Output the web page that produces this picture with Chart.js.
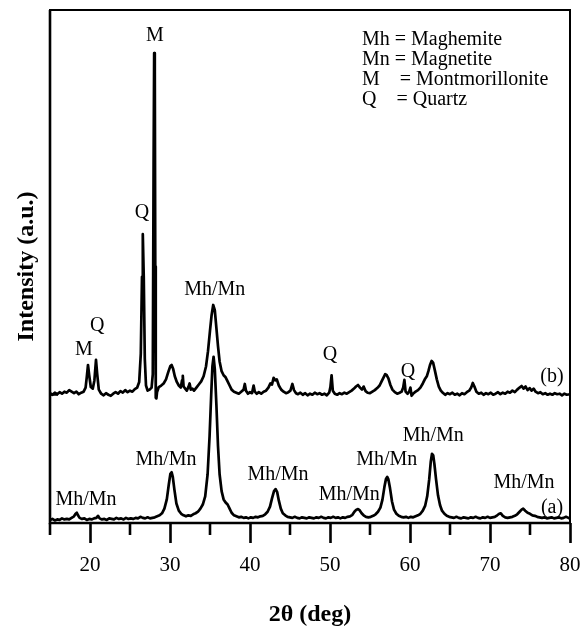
<!DOCTYPE html>
<html>
<head>
<meta charset="utf-8">
<script src="https://cdn.jsdelivr.net/npm/chart.js@4/dist/chart.umd.min.js"></script>
<style>
  html, body { margin: 0; padding: 0; background: #fff; }
  canvas { display: block; }
</style>
</head>
<body>
<canvas id="xrd" width="584" height="630"></canvas>
<script>
// XRD patterns, [2theta, intensity] pairs; (b) sits on an offset of 25
var patternA = [
  [15.0,0.6],[15.3,0.8],[15.6,0.5],[15.9,0.7],[16.2,0.6],[16.5,0.9],[16.8,0.7],[17.1,0.8],[17.4,0.7],[17.7,1.0],
  [18.0,1.3],[18.2,1.8],[18.35,2.0],[18.5,1.5],[18.7,1.0],[19.0,0.8],[19.3,0.9],[19.6,0.6],[19.9,0.8],[20.2,0.7],
  [20.5,0.9],[20.8,1.0],[21.0,1.4],[21.2,0.9],[21.5,0.7],[21.8,0.8],[22.1,0.6],[22.4,0.9],[22.7,0.8],[23.0,0.7],
  [23.3,1.0],[23.6,0.8],[23.9,0.9],[24.2,0.7],[24.5,1.0],[24.8,0.8],[25.1,0.9],[25.4,0.8],[25.7,1.0],[26.0,0.9],
  [26.3,1.2],[26.6,1.0],[26.9,0.9],[27.2,1.1],[27.5,0.9],[27.8,1.0],[28.1,1.1],[28.4,1.3],[28.7,1.5],[29.0,1.9],
  [29.3,2.8],[29.6,4.6],[29.85,7.5],[30.05,9.6],[30.2,9.9],[30.35,9.0],[30.55,6.5],[30.8,3.8],[31.1,2.4],[31.4,1.8],
  [31.7,1.5],[32.0,1.3],[32.3,1.5],[32.6,1.4],[32.9,1.7],[33.2,1.9],[33.5,2.2],[33.8,2.8],[34.1,3.6],[34.4,5.2],
  [34.7,9.5],[34.95,17.0],[35.15,25.0],[35.3,30.5],[35.45,32.4],[35.6,30.0],[35.8,23.0],[36.0,15.0],[36.2,9.5],[36.45,6.2],
  [36.7,4.6],[36.95,4.0],[37.2,3.6],[37.45,2.8],[37.7,2.0],[38.0,1.5],[38.3,1.3],[38.6,1.1],[38.9,1.2],[39.2,1.0],
  [39.5,1.1],[39.8,0.9],[40.1,1.1],[40.4,1.0],[40.7,1.2],[41.0,1.1],[41.3,1.3],[41.6,1.4],[41.9,1.7],[42.2,2.2],
  [42.5,3.2],[42.75,4.8],[43.0,6.2],[43.2,6.6],[43.4,6.0],[43.6,4.4],[43.85,2.8],[44.1,1.9],[44.4,1.5],[44.7,1.2],
  [45.0,1.1],[45.3,1.0],[45.6,1.2],[45.9,1.0],[46.2,0.9],[46.5,1.1],[46.8,1.0],[47.1,0.9],[47.4,1.1],[47.7,1.0],
  [48.0,0.9],[48.3,1.1],[48.6,1.0],[48.9,1.2],[49.2,1.0],[49.5,0.9],[49.8,1.1],[50.1,1.0],[50.4,1.2],[50.7,1.0],
  [51.0,1.1],[51.3,0.9],[51.6,1.1],[51.9,1.0],[52.2,1.2],[52.5,1.3],[52.8,1.6],[53.05,2.2],[53.3,2.6],[53.5,2.7],
  [53.7,2.5],[53.95,1.9],[54.2,1.5],[54.5,1.2],[54.8,1.1],[55.1,1.2],[55.4,1.4],[55.7,1.7],[56.0,2.2],[56.3,3.0],
  [56.55,4.5],[56.8,7.0],[57.0,8.6],[57.15,9.0],[57.3,8.5],[57.5,6.8],[57.75,4.2],[58.0,2.6],[58.3,1.8],[58.6,1.4],
  [58.9,1.2],[59.2,1.1],[59.5,1.2],[59.8,1.0],[60.1,1.2],[60.4,1.1],[60.7,1.3],[61.0,1.5],[61.3,1.8],[61.6,2.4],
  [61.9,3.4],[62.15,5.2],[62.4,8.5],[62.6,12.0],[62.75,13.5],[62.9,13.2],[63.05,11.5],[63.25,8.6],[63.5,5.4],[63.75,3.5],
  [64.0,2.4],[64.3,1.8],[64.6,1.4],[64.9,1.2],[65.2,1.1],[65.5,1.0],[65.8,1.2],[66.1,1.0],[66.4,0.9],[66.7,1.1],
  [67.0,1.0],[67.3,0.9],[67.6,1.1],[67.9,1.0],[68.2,1.2],[68.5,1.0],[68.8,0.9],[69.1,1.1],[69.4,1.0],[69.7,1.2],
  [70.0,1.0],[70.3,1.1],[70.6,1.2],[70.9,1.5],[71.15,1.8],[71.35,1.9],[71.6,1.4],[71.9,1.1],[72.2,1.0],[72.5,1.1],
  [72.8,1.2],[73.1,1.4],[73.4,1.7],[73.7,2.2],[73.95,2.6],[74.15,2.8],[74.4,2.4],[74.7,2.0],[75.0,1.8],[75.3,1.5],
  [75.6,1.4],[75.9,1.2],[76.2,1.1],[76.5,1.0],[76.8,1.1],[77.1,0.9],[77.4,1.0],[77.7,1.1],[78.0,0.9],[78.3,1.0],
  [78.6,1.1],[78.9,0.9],[79.2,1.0],[79.5,1.2],[79.8,1.0],[80.0,0.9]
];

var patternB = [
  [15.0,25.3],[15.3,25.0],[15.6,25.4],[15.9,25.1],[16.2,25.5],[16.5,25.2],[16.8,25.6],[17.1,25.4],[17.4,25.9],[17.7,25.6],
  [18.0,25.3],[18.3,25.6],[18.6,25.1],[18.9,25.4],[19.2,25.6],[19.45,26.4],[19.6,28.5],[19.75,30.8],[19.9,28.8],[20.1,26.5],
  [20.35,26.2],[20.55,27.8],[20.75,31.8],[20.9,29.0],[21.1,26.0],[21.4,25.2],[21.7,24.9],[22.0,25.3],[22.3,25.0],[22.6,24.8],
  [22.9,25.2],[23.2,25.5],[23.5,25.2],[23.8,25.7],[24.1,25.4],[24.4,25.9],[24.7,25.5],[25.0,25.8],[25.3,25.6],[25.6,26.1],
  [25.9,26.4],[26.15,27.5],[26.35,33.0],[26.5,48.0],[26.6,56.3],[26.72,48.0],[26.85,32.0],[27.0,26.8],[27.2,25.8],[27.45,26.0],
  [27.7,26.4],[27.85,29.0],[27.95,70.0],[28.02,91.6],[28.1,88.0],[28.16,50.0],[28.22,24.4],[28.3,24.3],[28.38,25.5],[28.6,26.5],
  [28.9,26.8],[29.2,27.2],[29.5,28.0],[29.8,29.5],[30.05,30.6],[30.2,30.8],[30.4,30.0],[30.6,28.6],[30.85,27.5],[31.1,26.8],
  [31.35,26.4],[31.5,27.8],[31.6,28.7],[31.7,26.6],[31.9,26.2],[32.1,25.8],[32.3,26.5],[32.45,27.2],[32.6,26.0],[32.8,26.2],
  [33.0,25.8],[33.3,26.4],[33.6,27.0],[33.9,27.6],[34.2,28.6],[34.5,30.5],[34.75,33.5],[35.0,37.5],[35.2,40.5],[35.4,42.5],
  [35.6,41.5],[35.8,38.0],[36.0,34.5],[36.2,31.5],[36.45,29.6],[36.7,28.8],[36.95,28.4],[37.2,27.6],[37.45,26.8],[37.7,26.0],
  [38.0,25.6],[38.3,25.4],[38.6,25.2],[38.9,25.6],[39.2,26.0],[39.35,27.1],[39.5,25.8],[39.75,25.2],[40.0,25.5],[40.25,25.3],
  [40.45,26.8],[40.6,25.6],[40.85,25.2],[41.1,25.5],[41.4,25.2],[41.7,25.6],[42.0,25.8],[42.3,26.4],[42.55,27.2],[42.75,27.0],
  [42.95,28.3],[43.15,27.8],[43.35,28.0],[43.6,26.8],[43.9,26.0],[44.2,25.6],[44.5,25.3],[44.8,25.5],[45.05,25.8],[45.3,27.1],
  [45.5,25.9],[45.75,25.3],[46.0,25.1],[46.3,25.4],[46.6,25.0],[46.9,25.3],[47.2,24.9],[47.5,25.2],[47.8,25.0],[48.1,25.4],
  [48.4,25.1],[48.7,25.3],[49.0,25.0],[49.3,25.2],[49.6,24.9],[49.9,25.4],[50.05,26.5],[50.2,28.8],[50.35,25.8],[50.6,25.2],
  [50.9,25.0],[51.2,25.3],[51.5,25.1],[51.8,25.4],[52.1,25.2],[52.4,25.5],[52.7,25.8],[53.0,26.2],[53.25,26.6],[53.5,26.9],
  [53.75,26.4],[54.0,26.0],[54.2,26.6],[54.45,25.7],[54.7,25.4],[55.0,25.3],[55.3,25.6],[55.6,25.9],[55.9,26.3],[56.2,26.8],
  [56.45,27.6],[56.7,28.4],[56.9,29.0],[57.1,28.8],[57.3,28.2],[57.55,26.9],[57.8,26.0],[58.1,25.5],[58.4,25.2],[58.7,25.4],
  [58.95,25.6],[59.15,26.4],[59.3,27.9],[59.45,25.6],[59.7,25.2],[59.9,25.6],[60.05,26.4],[60.2,24.8],[60.45,25.3],[60.7,25.6],
  [61.0,25.9],[61.3,26.4],[61.6,27.2],[61.85,28.0],[62.1,28.6],[62.3,29.6],[62.5,30.8],[62.7,31.6],[62.9,31.2],[63.1,29.8],
  [63.35,28.0],[63.6,26.6],[63.85,25.8],[64.1,25.4],[64.4,25.0],[64.7,25.3],[65.0,25.1],[65.3,25.4],[65.6,25.0],[65.9,25.2],
  [66.2,24.9],[66.5,25.3],[66.8,25.1],[67.1,25.5],[67.4,25.8],[67.65,26.4],[67.85,27.3],[68.05,26.6],[68.3,25.6],[68.6,25.2],
  [68.9,25.4],[69.2,25.0],[69.5,25.3],[69.8,25.1],[70.1,25.4],[70.4,25.0],[70.7,25.2],[71.0,25.5],[71.3,25.1],[71.6,25.4],
  [71.9,25.2],[72.2,25.6],[72.5,25.4],[72.8,25.8],[73.1,25.5],[73.4,26.0],[73.7,26.4],[73.95,26.7],[74.2,26.2],[74.45,26.6],
  [74.7,25.9],[74.95,26.3],[75.2,25.8],[75.45,26.2],[75.7,25.6],[76.0,25.3],[76.3,25.5],[76.6,25.1],[76.9,25.3],[77.2,25.0],
  [77.5,25.2],[77.8,25.0],[78.1,25.3],[78.4,25.1],[78.7,25.2],[79.0,24.9],[79.3,25.2],[79.6,25.0],[80.0,25.1]
];

var baselineB = 25;

// phase labels: text, 2theta, intensity
var peakLabels = [
  ['M', 28.1, 94.9], ['Q', 26.5, 60.4], ['Mh/Mn', 35.6, 45.4],
  ['M', 19.25, 33.7], ['Q', 20.9, 38.4], ['Q', 50.0, 32.7], ['Q', 59.75, 29.4],
  ['(b)', 77.75, 28.5], ['(a)', 77.75, 2.9],
  ['Mh/Mn', 19.5, 4.5], ['Mh/Mn', 29.5, 12.3], ['Mh/Mn', 43.5, 9.4], ['Mh/Mn', 52.4, 5.5],
  ['Mh/Mn', 57.1, 12.3], ['Mh/Mn', 62.9, 17.0], ['Mh/Mn', 74.25, 7.8]
];

var phaseKey = ['Mh = Maghemite', 'Mn = Magnetite', 'M    = Montmorillonite', 'Q    = Quartz'];

var serif = '"Liberation Serif", "Times New Roman", serif';

var toPoints = function(arr) {
  return arr.map(function(p) { return {x: p[0], y: p[1]}; });
};

// frame, short minor ticks, baseline tick and all the text annotations
var decorations = {
  id: 'decorations',
  afterDraw: function(chart) {
    var ctx = chart.ctx;
    var area = chart.chartArea;
    var xs = chart.scales.x;
    var ys = chart.scales.y;
    ctx.save();
    ctx.strokeStyle = '#000';
    ctx.lineWidth = 2;
    ctx.strokeRect(area.left, area.top, area.right - area.left, area.bottom - area.top);
    ctx.lineWidth = 2.6;
    ctx.beginPath();
    ctx.moveTo(area.left, area.top);
    ctx.lineTo(area.left, area.bottom);
    ctx.lineTo(area.right, area.bottom);
    ctx.stroke();

    xs.ticks.forEach(function(t) {
      if (t.value % 10 !== 0) {
        var px = xs.getPixelForValue(t.value);
        ctx.beginPath();
        ctx.moveTo(px, area.bottom);
        ctx.lineTo(px, area.bottom + 12);
        ctx.stroke();
      }
    });

    var by = ys.getPixelForValue(baselineB);
    ctx.lineWidth = 2;
    ctx.beginPath();
    ctx.moveTo(area.left, by);
    ctx.lineTo(area.left + 8, by);
    ctx.stroke();

    ctx.fillStyle = '#000';
    ctx.font = '20px ' + serif;
    ctx.textAlign = 'center';
    ctx.textBaseline = 'middle';
    peakLabels.forEach(function(l) {
      ctx.fillText(l[0], xs.getPixelForValue(l[1]), ys.getPixelForValue(l[2]));
    });

    ctx.textAlign = 'left';
    phaseKey.forEach(function(line, i) {
      ctx.fillText(line, 362, 40 + i * 20);
    });
    ctx.restore();
  }
};

var chart = new Chart(document.getElementById('xrd'), {
  type: 'scatter',
  data: {
    datasets: [
      {label: '(a)', data: toPoints(patternA)},
      {label: '(b)', data: toPoints(patternB)}
    ]
  },
  options: {
    responsive: false,
    animation: false,
    devicePixelRatio: 1,
    showLine: true,
    layout: {padding: {top: 10, right: 0, left: 0, bottom: 0}},
    elements: {
      point: {radius: 0},
      line: {borderColor: '#000', borderWidth: 2.7, borderJoinStyle: 'round', tension: 0}
    },
    plugins: {legend: {display: false}, tooltip: {enabled: false}},
    scales: {
      x: {
        type: 'linear',
        min: 15,
        max: 80,
        border: {display: false},
        grid: {
          drawOnChartArea: false,
          tickLength: 20,
          tickWidth: 2.6,
          tickColor: function(c) { return c.tick && c.tick.value % 10 === 0 ? '#000' : 'rgba(0,0,0,0)'; }
        },
        ticks: {
          stepSize: 5,
          autoSkip: false,
          maxRotation: 0,
          padding: 10,
          color: '#000',
          font: {family: serif, size: 21},
          callback: function(v) { return v % 10 === 0 ? v : ''; }
        },
        title: {
          display: true,
          text: '2θ (deg)',
          color: '#000',
          font: {family: serif, size: 24, weight: 'bold', lineHeight: 1},
          padding: {top: 0, bottom: 3}
        },
        afterFit: function(s) {
          s.height = 107;
          s.paddingRight = 14;
        }
      },
      y: {
        min: 0,
        max: 100,
        border: {display: false},
        grid: {display: false},
        ticks: {display: false},
        title: {
          display: true,
          text: 'Intensity (a.u.)',
          color: '#000',
          font: {family: serif, size: 24, weight: 'bold', lineHeight: 1},
          padding: {top: 15, bottom: 0}
        },
        afterFit: function(s) { s.width = 50; }
      }
    }
  },
  plugins: [decorations]
});
</script>
</body>
</html>
